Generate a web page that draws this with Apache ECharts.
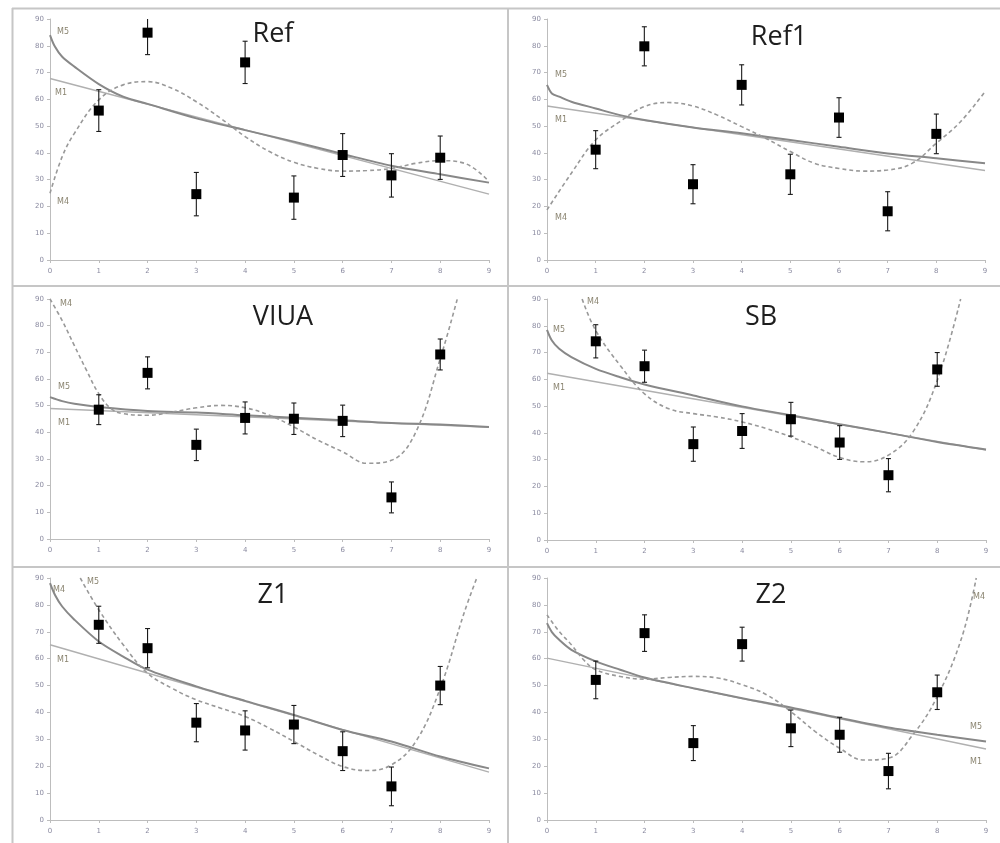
<!DOCTYPE html>
<html><head><meta charset="utf-8">
<script src="https://cdn.jsdelivr.net/npm/echarts@6/dist/echarts.min.js"></script>
<style>html,body{margin:0;padding:0;background:#fff}#c{width:1000px;height:843px}</style>
</head><body><div id="c"></div>
<script>
// ---------- data ----------
const panelTitles = ['Ref', 'Ref1', 'VIUA', 'SB', 'Z1', 'Z2'];
const xTickLabels = ['0','1','2','3','4','5','6','7','8','9'];
const yTickLabels = ['0','10','20','30','40','50','60','70','80','90'];
const pointX = [1, 2, 3, 4, 5, 6, 7, 8];

// observed points (y) and error half-widths
const refY  = [55.8, 84.9, 24.6, 73.8, 23.3, 39.2, 31.6, 38.2];
const refErr = [7.8, 8.2, 8.1, 7.9, 8.1, 8.0, 8.1, 8.1];
const ref1Y = [41.2, 79.8, 28.3, 65.4, 32.0, 53.2, 18.2, 47.1];
const ref1Err = [7.1, 7.3, 7.3, 7.5, 7.5, 7.4, 7.3, 7.4];
const viuaY = [48.5, 62.3, 35.3, 45.4, 45.1, 44.3, 15.6, 69.2];
const viuaErr = [5.6, 6.0, 5.9, 6.0, 5.9, 5.9, 5.8, 5.8];
const sbY   = [74.2, 64.9, 35.8, 40.7, 45.1, 36.4, 24.2, 63.7];
const sbErr = [6.2, 6.0, 6.4, 6.5, 6.3, 6.3, 6.2, 6.3];
const z1Y   = [72.6, 63.9, 36.2, 33.3, 35.5, 25.6, 12.5, 50.0];
const z1Err = [6.9, 7.3, 7.1, 7.3, 7.1, 7.2, 7.2, 7.1];
const z2Y   = [52.1, 69.5, 28.6, 65.4, 34.1, 31.7, 18.2, 47.5];
const z2Err = [7.0, 6.8, 6.5, 6.3, 6.8, 6.5, 6.6, 6.4];

// fitted curves: [x, y] pairs
const refM1 = [[0, 67.8], [9, 24.6]];
const refM5 = [[0,84.0],[0.1,79.7],[0.25,75.9],[0.5,72.2],[1,65.7],[1.5,61.0],[2,58.3],[3,52.9],[4,48.5],[5,44.2],[6,39.6],[7,35.2],[8,32.0],[9,28.9]];
const refM4 = [[0,24.9],[0.25,38.6],[0.5,47.3],[1,59.8],[1.5,65.4],[2,66.6],[2.5,64.1],[3,59.1],[3.5,52.9],[4,46.1],[4.5,40.5],[5,36.5],[5.5,34.2],[6,33.2],[6.5,33.4],[7,34.2],[7.5,36.1],[8,37.1],[8.5,36.1],[9,29.3]];

const ref1M1 = [[0, 57.5], [9, 33.4]];
const ref1M5 = [[0,65.4],[0.1,62.2],[0.25,61.0],[0.5,59.1],[1,56.6],[1.5,54.1],[2,52.3],[3,49.5],[4,47.3],[5,44.8],[6,42.3],[7,39.8],[8,38.0],[9,36.1]];
const ref1M4 = [[0,18.7],[0.5,32.4],[1,44.8],[1.5,51.7],[2,57.3],[2.5,58.8],[3,57.5],[3.5,54.1],[4,49.8],[4.5,45.4],[5,40.5],[5.5,36.1],[6,34.2],[6.5,33.2],[7,33.6],[7.5,36.1],[8,43.6],[8.5,51.7],[9,62.9]];

const viuaM1 = [[0, 48.9], [9, 41.9]];
const viuaM5 = [[0,53.2],[0.25,51.7],[0.5,50.7],[1,49.5],[2,48.0],[3,47.4],[4,46.4],[5,45.5],[6,44.5],[7,43.5],[8,42.9],[9,42.0]];
const viuaM4 = [[0,90.0],[0.25,81.9],[0.5,72.5],[0.75,63.2],[1,54.5],[1.25,48.9],[1.5,47.0],[2,46.4],[2.5,47.6],[3,49.2],[3.5,50.1],[4,49.2],[4.5,46.4],[5,42.0],[5.5,37.0],[6,32.7],[6.5,28.4],[7,29.5],[7.5,40.1],[8,67.6],[8.35,90.0]];

const sbM1 = [[0, 62.3], [9, 33.6]];
const sbM5 = [[0,78.5],[0.1,74.5],[0.25,71.4],[0.5,68.3],[1,63.9],[1.5,60.8],[2,58.1],[3,54.0],[4,49.9],[5,46.6],[6,43.2],[7,40.0],[8,36.6],[9,33.8]];
const sbM4 = [[0.72,90.0],[1,78.2],[1.5,65.2],[2,54.6],[2.5,49.0],[3,47.2],[3.5,45.9],[4,44.1],[4.5,41.6],[5,38.5],[5.5,34.8],[6,30.8],[6.5,29.2],[7,31.7],[7.5,40.3],[8,59.6],[8.48,90.0]];

const z1M1 = [[0, 65.2], [9, 17.8]];
const z1M5 = [[0,88.1],[0.1,83.8],[0.25,79.4],[0.5,74.5],[1,66.4],[1.5,60.8],[2,55.9],[3,49.7],[4,44.3],[5,39.1],[6,33.5],[7,29.2],[8,23.6],[9,19.2]];
const z1M4 = [[0.62,90.0],[1,78.2],[1.5,65.2],[2,54.6],[2.5,49.0],[3,44.7],[3.5,41.6],[4,38.5],[4.5,34.1],[5,29.2],[5.5,24.2],[6,19.9],[6.5,18.4],[7,20.5],[7.5,29.2],[8,49.0],[8.5,77.6],[8.75,90.0]];

const z2M1 = [[0, 60.2], [9, 26.4]];
const z2M5 = [[0,73.2],[0.1,69.9],[0.25,67.0],[0.5,63.3],[1,59.0],[1.5,55.9],[2,53.0],[3,49.0],[4,45.3],[5,41.8],[6,37.9],[7,34.4],[8,31.7],[9,29.2]];
const z2M4 = [[0,76.3],[0.25,70.1],[0.5,65.2],[0.75,59.6],[1,55.9],[1.5,53.4],[2,52.4],[2.5,53.0],[3,53.4],[3.5,52.8],[4,50.3],[4.5,46.6],[5,40.3],[5.5,32.9],[6,26.7],[6.5,22.3],[7,23.0],[7.5,31.7],[8,45.9],[8.5,67.7],[8.8,90.0]];

const curveLabels = [
  [['M5',57,32],['M1',55,93],['M4',57,202]],
  [['M5',555,75],['M1',555,120],['M4',555,218]],
  [['M4',60,304],['M5',58,387],['M1',58,423]],
  [['M4',587,302],['M5',553,330],['M1',553,388]],
  [['M4',53,590],['M5',87,582],['M1',57,660]],
  [['M4',973,597],['M5',970,727],['M1',970,762]]
];

// ---------- chart ----------
const panels = [
  {y: refY, e: refErr, m1: refM1, m5: refM5, m4: refM4},
  {y: ref1Y, e: ref1Err, m1: ref1M1, m5: ref1M5, m4: ref1M4},
  {y: viuaY, e: viuaErr, m1: viuaM1, m5: viuaM5, m4: viuaM4},
  {y: sbY, e: sbErr, m1: sbM1, m5: sbM5, m4: sbM4},
  {y: z1Y, e: z1Err, m1: z1M1, m5: z1M5, m4: z1M4},
  {y: z2Y, e: z2Err, m1: z2M1, m5: z2M5, m4: z2M4}
];
const grids = [
  {left: 50, top: 19, width: 439, height: 241},
  {left: 547, top: 19, width: 438, height: 241},
  {left: 50, top: 299, width: 439, height: 240},
  {left: 547, top: 299, width: 439, height: 241},
  {left: 50, top: 578, width: 439, height: 242},
  {left: 547, top: 578, width: 439, height: 242}
];
const titlePos = [[273,34],[779,37],[283,317],[761,317],[273,595],[771,595]];

const axisCol = '#bdbdbd';
const labCol = '#8a8aa0';
const xAxes = [], yAxes = [], series = [], graphics = [];
grids.forEach((g, i) => {
  xAxes.push({gridIndex: i, type: 'value', min: 0, max: 9, interval: 1,
    axisLine: {show: true, onZero: false, lineStyle: {color: axisCol, width: 1}},
    axisTick: {show: true, length: 3, lineStyle: {color: axisCol}},
    axisLabel: {fontSize: 7, color: labCol, margin: 8, fontFamily: 'DejaVu Sans',
      formatter: v => xTickLabels[Math.round(v)]},
    splitLine: {show: false}});
  yAxes.push({gridIndex: i, type: 'value', min: 0, max: 90, interval: 10,
    axisLine: {show: true, onZero: false, lineStyle: {color: axisCol, width: 1}},
    axisTick: {show: true, length: 3, lineStyle: {color: axisCol}},
    axisLabel: {fontSize: 7, color: labCol, margin: 6, fontFamily: 'DejaVu Sans',
      formatter: v => yTickLabels[Math.round(v / 10)]},
    splitLine: {show: false}});
  const p = panels[i];
  series.push({type: 'line', xAxisIndex: i, yAxisIndex: i, data: p.m1, showSymbol: false, symbol: 'none',
    lineStyle: {color: '#b0b0b0', width: 1.5}, silent: true, z: 2, clip: true});
  series.push({type: 'line', xAxisIndex: i, yAxisIndex: i, data: p.m5, showSymbol: false, symbol: 'none', smooth: 0.3,
    lineStyle: {color: '#888888', width: 2}, silent: true, z: 3, clip: true});
  series.push({type: 'line', xAxisIndex: i, yAxisIndex: i, data: p.m4, showSymbol: false, symbol: 'none', smooth: 0.4,
    lineStyle: {color: '#999999', width: 1.6, type: [4, 3]}, silent: true, z: 3, clip: true});
  const errData = pointX.map((x, k) => [x, p.y[k] - p.e[k], p.y[k] + p.e[k]]);
  series.push({type: 'custom', xAxisIndex: i, yAxisIndex: i, data: errData, z: 4, clip: true,
    renderItem: (params, api) => {
      const x = api.value(0);
      const lo = api.coord([x, api.value(1)]);
      const hi = api.coord([x, api.value(2)]);
      const w = 2.5;
      const st = {stroke: '#1a1a1a', lineWidth: 1.1};
      return {type: 'group', children: [
        {type: 'line', shape: {x1: lo[0], y1: lo[1], x2: hi[0], y2: hi[1]}, style: st},
        {type: 'line', shape: {x1: lo[0]-w, y1: lo[1], x2: lo[0]+w, y2: lo[1]}, style: st},
        {type: 'line', shape: {x1: hi[0]-w, y1: hi[1], x2: hi[0]+w, y2: hi[1]}, style: st}
      ]};
    }});
  series.push({type: 'scatter', xAxisIndex: i, yAxisIndex: i, data: pointX.map((x, k) => [x, p.y[k]]),
    symbol: 'rect', symbolSize: 10, itemStyle: {color: '#000', opacity: 1}, z: 5});
  graphics.push({type: 'text', z: 10,
    style: {x: titlePos[i][0], y: titlePos[i][1], text: panelTitles[i], fontSize: 27, fontFamily: 'Open Sans', fill: '#1e1e1e',
      textAlign: 'center', textVerticalAlign: 'middle'}});
  curveLabels[i].forEach(l => graphics.push({type: 'text', z: 10,
    style: {x: l[1], y: l[2], text: l[0], fontSize: 8, fontFamily: 'DejaVu Sans', fill: '#8a8470',
      textVerticalAlign: 'middle'}}));
});
// panel frame lines
const frameCol = '#c6c6c6';
[[12, 8.5, 1000, 8.5], [12.5, 8, 12.5, 843], [508, 8, 508, 843], [12, 286, 1000, 286], [12, 567, 1000, 567]]
  .forEach(s => graphics.push({type: 'line', z: 1, shape: {x1: s[0], y1: s[1], x2: s[2], y2: s[3]},
    style: {stroke: frameCol, lineWidth: 2}}));

const chart = echarts.init(document.getElementById('c'), null, {renderer: 'canvas'});
chart.setOption({animation: false, grid: grids, xAxis: xAxes, yAxis: yAxes, series: series, graphic: graphics});
</script></body></html>
